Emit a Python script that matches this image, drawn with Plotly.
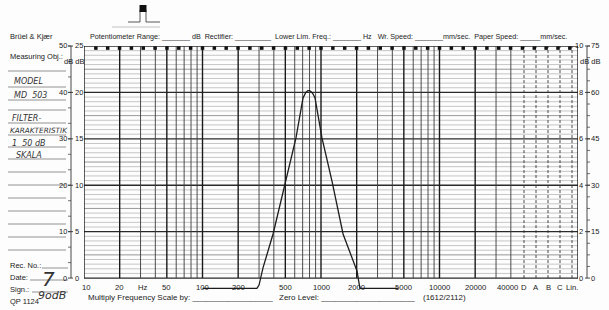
import numpy as np
import plotly.graph_objects as go

# ---------------- data ----------------
freq_hz = [100, 288, 300, 312, 324, 394, 507, 615, 705, 745, 775, 800, 830, 860, 890,
           1019, 1238, 1535, 2014, 2070, 2130, 4470]
level_db = [-2.2, -2.2, -1.5, 0.5, 2.2, 9.5, 20.9, 30.2, 38.8, 40.0, 40.4, 40.4, 40.1, 39.6, 38.8,
            30.2, 20.9, 9.5, 1.5, -0.5, -2.2, -2.2]

freq_labels = ["10", "20", "Hz", "50", "100", "200", "500", "1000", "2000", "5000",
               "10000", "20000", "40000"]
freq_label_pos = [10, 20, 31.6, 50, 100, 200, 500, 1000, 2000, 5000, 10000, 20000, 40000]
left_outer = ["50", "40", "30", "20", "10", "0"]
left_inner = ["25", "20", "15", "10", "5", "0"]
right_outer = ["10", "8", "6", "4", "2", "0"]
right_inner = ["75", "60", "45", "30", "15", "0"]
major_db = [50, 40, 30, 20, 10, 0]
weight_cols = ["D", "A", "B", "C", "Lin."]
weight_cols2 = ["A", "B", "C", "Lin."]

# ---------------- geometry (pixels) ----------------
W, H = 609, 310
L, R, T, B = 84, 578, 46, 292
DEC = 118.5
XMAX = 1 + (R - L) / DEC
YMIN, YMAX = -3, 50
Y0 = B - (0 - YMIN) * (B - T) / (YMAX - YMIN)   # pixel row of 0 dB


def px(x):
    return (x - L) / (R - L)


def py(y):
    return (B - y) / (B - T)


def logpos(xpix):
    return 10 ** (1 + (xpix - L) / DEC)


col_pix = [524, 536, 548, 560, 572]
col_freq = [logpos(p) for p in col_pix]
right_edge_f = logpos(R)

fig = go.Figure()


def hlines(vals):
    xs, ys = [], []
    for v in vals:
        xs += [10, right_edge_f, None]
        ys += [v, v, None]
    return xs, ys

xs, ys = hlines([v for v in range(0, 51) if v % 5 != 0])
fig.add_trace(go.Scatter(x=xs, y=ys, mode="lines", line=dict(color="#b8b8b8", width=0.8),
                         hoverinfo="skip", showlegend=False))
xs, ys = hlines([5, 15, 25, 35, 45])
fig.add_trace(go.Scatter(x=xs, y=ys, mode="lines", line=dict(color="#8c8c8c", width=0.9),
                         hoverinfo="skip", showlegend=False))
xs, ys = hlines([0, 10, 20, 30, 40, 50])
fig.add_trace(go.Scatter(x=xs, y=ys, mode="lines", line=dict(color="#2a2a2a", width=1.3),
                         hoverinfo="skip", showlegend=False))

# vertical grid
thin_x, thin_y, thick_x, thick_y = [], [], [], []
for d in [10, 100, 1000, 10000]:
    for m in range(1, 10):
        f = m * d
        if f > 40000:
            continue
        if m in (1, 2, 5):
            thick_x += [f, f, None]; thick_y += [0, 50, None]
        else:
            thin_x += [f, f, None]; thin_y += [0, 50, None]
thick_x += [right_edge_f, right_edge_f, None]; thick_y += [0, 50, None]
fig.add_trace(go.Scatter(x=thin_x, y=thin_y, mode="lines", line=dict(color="#3a3a3a", width=0.9),
                         hoverinfo="skip", showlegend=False))
fig.add_trace(go.Scatter(x=thick_x, y=thick_y, mode="lines", line=dict(color="#1a1a1a", width=1.4),
                         hoverinfo="skip", showlegend=False))
dx, dy = [], []
for f in col_freq:
    dx += [f, f, None]; dy += [0, 50, None]
fig.add_trace(go.Scatter(x=dx, y=dy, mode="lines", line=dict(color="#333", width=0.9, dash="3px,2px"),
                         hoverinfo="skip", showlegend=False))

# top paper-advance squares
sq_f = [10 ** (1 + 0.1 * k) for k in range(1, 42)]
fig.add_trace(go.Scatter(x=sq_f, y=[49.55] * len(sq_f), mode="markers",
                         marker=dict(symbol="square", size=3.5, color="#111"),
                         hoverinfo="skip", showlegend=False))

# recorded curve
fig.add_trace(go.Scatter(x=freq_hz, y=level_db, mode="lines",
                         line=dict(color="#1c1c1c", width=1.3),
                         hoverinfo="skip", showlegend=False))

ann = []
shapes = []
FONT = "Liberation Sans, Arial, sans-serif"
HAND = "DejaVu Sans, sans-serif"


def text(x, y, s, size=7.5, xanchor="left", color="#222", italic=False, family=FONT):
    ann.append(dict(x=px(x), y=py(y), xref="paper", yref="paper", text=s, showarrow=False,
                    xanchor=xanchor, yanchor="middle",
                    font=dict(size=size, color=color, family=family,
                              style="italic" if italic else "normal")))


def line(x0, y0, x1, y1, color="#333", width=0.8):
    shapes.append(dict(type="line", xref="paper", yref="paper", x0=px(x0), y0=py(y0),
                       x1=px(x1), y1=py(y1), line=dict(color=color, width=width)))


# frequency labels on the log axis
for lab, f in zip(freq_labels, freq_label_pos):
    off = 0.02 if lab == "10" else (-0.025 if lab == "40000" else 0)
    ann.append(dict(x=np.log10(f) + off, y=-2.0, xref="x", yref="y", text=lab, showarrow=False,
                    xanchor="center", yanchor="middle", font=dict(size=7.7, color="#222", family=FONT)))
for lab, f in zip(weight_cols, col_freq):
    ann.append(dict(x=np.log10(f), y=-2.0, xref="x", yref="y", text=lab, showarrow=False,
                    xanchor="center", yanchor="middle", font=dict(size=7.7, color="#222", family=FONT)))
for lab, f in zip(weight_cols2, col_freq):
    ann.append(dict(x=np.log10(f), y=-4.6, xref="x", yref="y", text=lab, showarrow=False,
                    xanchor="center", yanchor="middle", font=dict(size=7.7, color="#222", family=FONT)))

# left / right dB scales
for lo, li, v in zip(left_outer, left_inner, major_db):
    yv = Y0 - v * (Y0 - T) / 50
    text(69, yv, lo, xanchor="right")
    text(73, yv, li)
    line(68, yv, 73, yv, width=0.9)
for ro, ri, v in zip(right_outer, right_inner, major_db):
    yv = Y0 - v * (Y0 - T) / 50
    text(585, yv, ro, xanchor="right")
    text(589, yv, ri)
    line(585, yv, 590, yv, width=0.9)
line(71, T, 71, Y0, width=0.9)
line(587, T, 587, Y0, width=0.9)
for k in range(15):
    yv = T + k * (Y0 - T) / 15
    line(68, yv, 71, yv, width=0.7)
for k in range(20):
    yv = T + k * (Y0 - T) / 20
    line(587, yv, 590, yv, width=0.7)
text(62, 61, "dB dB")
text(578, 61, "dB dB")

# header
text(8, 37, "Brüel &amp; Kjær")
text(8, 56, "Measuring Obj.:")
text(88, 37, "Potentiometer Range: _______ dB  Rectifier: _________  Lower Lim. Freq.: _______ Hz"
             "   Wr. Speed: _______mm/sec.  Paper Speed: _____mm/sec.", size=7.2)

# left notes column
for yl in [71, 87, 100, 110, 123, 135, 147, 159, 172, 185, 198, 211, 224, 237, 250]:
    line(8, yl, 66, yl, color="#777", width=0.8)
text(12, 81, "MODEL", size=8, italic=True, family=HAND, color="#333")
text(12, 95, "MD  503", size=8, italic=True, family=HAND, color="#333")
text(10, 118, "FILTER-", size=8, italic=True, family=HAND, color="#333")
text(8, 130, "KARAKTERISTIK", size=7.3, italic=True, family=HAND, color="#333")
text(10, 143, "1  50 dB", size=8, italic=True, family=HAND, color="#333")
text(14, 155, "SKALA", size=8, italic=True, family=HAND, color="#333")

text(8, 265, "Rec. No.:")
text(8, 277, "Date:")
text(8, 289, "Sign.:")
text(8, 301, "QP 1124")
line(42, 268, 68, 268, color="#777")
line(30, 280, 68, 280, color="#777")
line(32, 292, 68, 292, color="#777")
text(40, 279, "7", size=20, italic=True, family=HAND, color="#333")
text(36, 295, "9odB", size=11, italic=True, family=HAND, color="#333")

# footer
text(86, 297, "Multiply Frequency Scale by: __________________", size=8)
text(277, 297, "Zero Level: _____________________", size=8)
text(421, 297, "(1612/2112)", size=8)

# pen symbol at top
line(128, 22, 140, 22, color="#444", width=0.9)
line(140, 22, 140, 10, color="#444", width=0.9)
line(146, 22, 146, 10, color="#444", width=0.9)
line(146, 22, 160, 22, color="#444", width=0.9)
line(112, 27, 160, 27, color="#aaa", width=0.7)
shapes.append(dict(type="rect", xref="paper", yref="paper", x0=px(139.5), x1=px(146.5),
                   y0=py(12), y1=py(5), fillcolor="#111", line=dict(width=0)))

fig.update_layout(
    width=W, height=H,
    margin=dict(l=L, r=W - R, t=T, b=H - B),
    paper_bgcolor="#fdfdfd", plot_bgcolor="#fdfdfd",
    xaxis=dict(type="log", range=[1, XMAX], showgrid=False, zeroline=False,
               showticklabels=False, ticks="", showline=False, fixedrange=True),
    yaxis=dict(range=[YMIN, YMAX], showgrid=False, zeroline=False,
               showticklabels=False, ticks="", showline=False, fixedrange=True),
    annotations=ann, shapes=shapes, showlegend=False,
)

fig.write_html("out.html")
